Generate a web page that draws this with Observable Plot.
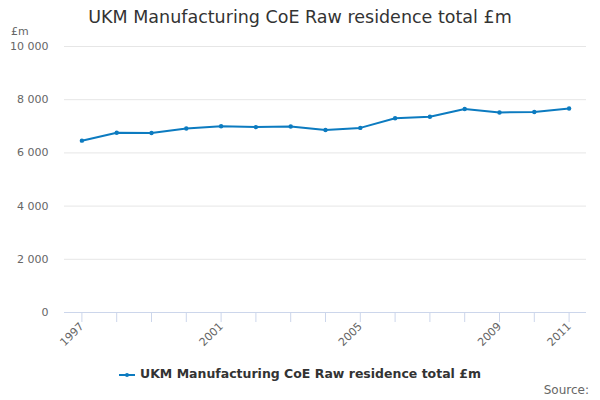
<!DOCTYPE html>
<html>
<head>
<meta charset="utf-8">
<script src="https://cdn.jsdelivr.net/npm/d3@7"></script>
<script src="https://cdn.jsdelivr.net/npm/@observablehq/plot@0.6"></script>
<style>
  body { margin: 0; background: #fff; font-family: "DejaVu Sans", sans-serif; }
  #wrap { width: 600px; height: 400px; position: relative; overflow: hidden; }
  #title { position: absolute; top: 7px; left: 0; width: 600px; text-align: center; font-size: 17.5px; color: #333; }
  #unit { position: absolute; top: 25px; left: 11px; font-size: 11px; color: #666; }
  #chart { position: absolute; top: 36px; left: 0; }
  #legend { position: absolute; top: 366px; left: 0; width: 600px; text-align: center; font-size: 12.5px; font-weight: bold; color: #333; }
  #legend svg { vertical-align: middle; margin-right: 5px; }
  #source { position: absolute; top: 383px; right: 11px; font-size: 12px; color: #666; }
</style>
</head>
<body>
<div id="wrap">
  <div id="title">UKM Manufacturing CoE Raw residence total £m</div>
  <div id="unit">£m</div>
  <div id="chart"></div>
  <div id="legend"><svg width="16" height="10"><line x1="0" y1="5" x2="16" y2="5" stroke="#0c7bc0" stroke-width="2"/><circle cx="8" cy="5" r="2" fill="#0c7bc0"/></svg>UKM Manufacturing CoE Raw residence total £m</div>
  <div id="source">Source:</div>
</div>
<script>
const years = [1997, 1998, 1999, 2000, 2001, 2002, 2003, 2004, 2005, 2006, 2007, 2008, 2009, 2010, 2011];
const values = [6460, 6760, 6750, 6920, 7000, 6970, 6990, 6860, 6940, 7300, 7360, 7650, 7520, 7540, 7670];
const yTicks = [0, 2000, 4000, 6000, 8000, 10000];
const labelYears = [1997, 2001, 2005, 2009, 2011];

const data = years.map((y, i) => ({year: y, value: values[i]}));
const fmt = v => v === 0 ? "0" : d3.format(",")(v).replace(/,/g, " ");

const chart = Plot.plot({
  width: 600,
  height: 320,
  marginTop: 10,
  marginBottom: 44,
  marginLeft: 64,
  marginRight: 14,
  style: {fontFamily: "DejaVu Sans, sans-serif", fontSize: "11px", color: "#666"},
  x: {domain: [1996.5, 2011.5], axis: null, label: null},
  y: {domain: [0, 10000], axis: null, label: null},
  marks: [
    Plot.gridY(yTicks, {stroke: "#e6e6e6", strokeOpacity: 1}),
    Plot.ruleY([0], {stroke: "#ccd6eb"}),
    Plot.axisX(years, {
      label: null,
      tickSize: 10, stroke: "#ccd6eb", strokeOpacity: 1,
      tickFormat: d => labelYears.includes(d) ? String(d) : "",
      tickRotate: -45, tickPadding: 2, fill: "#666", fontSize: 11, textAnchor: "end"
    }),
    Plot.axisY(yTicks, {label: null, tickSize: 0, tickPadding: 16, tickFormat: fmt, fill: "#666", fontSize: 11}),
    Plot.line(data, {x: "year", y: "value", stroke: "#0c7bc0", strokeWidth: 2}),
    Plot.dot(data, {x: "year", y: "value", fill: "#0c7bc0", r: 2.2})
  ]
});
document.getElementById("chart").appendChild(chart);
</script>
</body>
</html>
